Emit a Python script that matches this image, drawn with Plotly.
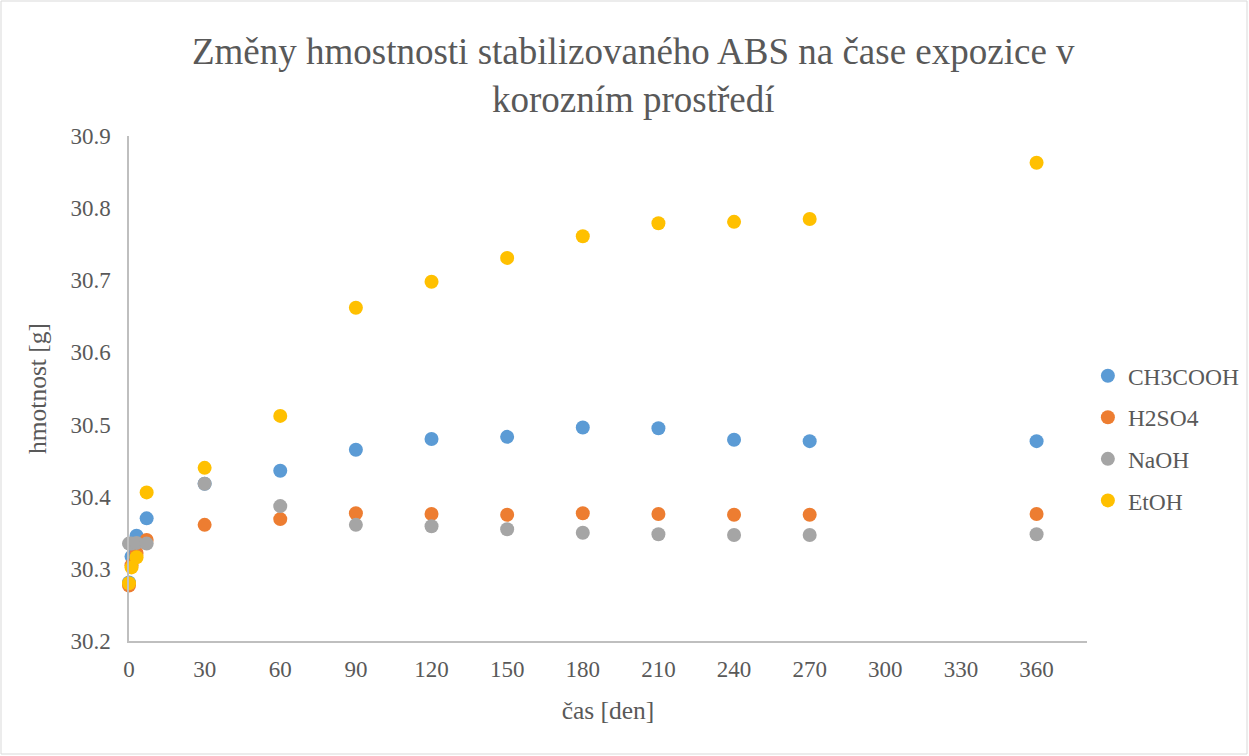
import plotly.graph_objects as go

# exposure time [days]
days = [0, 1, 3, 7, 30, 60, 90, 120, 150, 180, 210, 240, 270, 360]

# sample mass [g] per corrosive medium
ch3cooh = [30.281, 30.317, 30.346, 30.370, 30.418, 30.436, 30.465, 30.480, 30.483, 30.496, 30.495, 30.479, 30.477, 30.477]
h2so4 = [30.277, 30.305, 30.322, 30.340, 30.361, 30.369, 30.377, 30.376, 30.375, 30.377, 30.376, 30.375, 30.375, 30.376]
naoh = [30.335, 30.335, 30.336, 30.335, 30.418, 30.387, 30.361, 30.359, 30.355, 30.350, 30.348, 30.347, 30.347, 30.348]
etoh = [30.280, 30.302, 30.316, 30.406, 30.440, 30.512, 30.662, 30.698, 30.731, 30.761, 30.779, 30.781, 30.785, 30.863]

series = [
    ("CH3COOH", ch3cooh, "#5B9BD5"),
    ("H2SO4", h2so4, "#ED7D31"),
    ("NaOH", naoh, "#A5A5A5"),
    ("EtOH", etoh, "#FFC000"),
]

x_ticks = list(range(0, 361, 30))
y_ticks = [30.2, 30.3, 30.4, 30.5, 30.6, 30.7, 30.8, 30.9]

FONT = "'Liberation Serif', 'Times New Roman', serif"
TXT = "#595959"

fig = go.Figure()
for name, vals, col in series:
    fig.add_trace(go.Scatter(
        x=days, y=vals, name=name, mode="markers", legendgroup=name,
        marker=dict(size=14, color=col),
        cliponaxis=False,
    ))

fig.update_layout(
    width=1249, height=756,
    paper_bgcolor="white", plot_bgcolor="white",
    margin=dict(l=129, r=162, t=136, b=115, autoexpand=False),
    font=dict(family=FONT, color=TXT, size=22),
    title=dict(
        text="Změny hmostnosti stabilizovaného ABS na čase expozice v<br>korozním prostředí",
        x=0.507, xanchor="center", y=0.915, yanchor="middle",
        font=dict(family=FONT, size=37, color=TXT),
    ),
    legend=dict(
        xref="container", yref="container",
        x=0.871, xanchor="left", y=0.42, yanchor="middle",
        font=dict(family=FONT, size=23.5, color=TXT),
        tracegroupgap=8,
    ),
    xaxis=dict(
        range=[0, 380], tickvals=x_ticks, ticktext=[str(v) for v in x_ticks],
        showgrid=False, zeroline=False,
        showline=True, linecolor="#BFBFBF", linewidth=1.5,
        ticks="", ticklen=0, ticklabelstandoff=7,
        title=dict(text="čas [den]", font=dict(family=FONT, size=25.5, color=TXT), standoff=20),
        tickfont=dict(family=FONT, size=23, color=TXT),
    ),
    yaxis=dict(
        range=[30.2, 30.9], tickvals=y_ticks, ticktext=[f"{v:.1f}" for v in y_ticks],
        showgrid=False, zeroline=False,
        showline=True, linecolor="#BFBFBF", linewidth=1.5,
        ticks="", ticklen=0, ticklabelstandoff=12,
        title=dict(text="hmotnost [g]", font=dict(family=FONT, size=25.5, color=TXT), standoff=16),
        tickfont=dict(family=FONT, size=23, color=TXT),
    ),
    shapes=[dict(
        type="rect", xref="paper", yref="paper",
        x0=(1 - 129) / 958, x1=(1247 - 129) / 958,
        y0=(641 - 754) / 505, y1=(641 - 1) / 505,
        line=dict(color="#D9D9D9", width=1), fillcolor="rgba(0,0,0,0)", layer="below",
    )],
)

fig.write_html("out.html")
